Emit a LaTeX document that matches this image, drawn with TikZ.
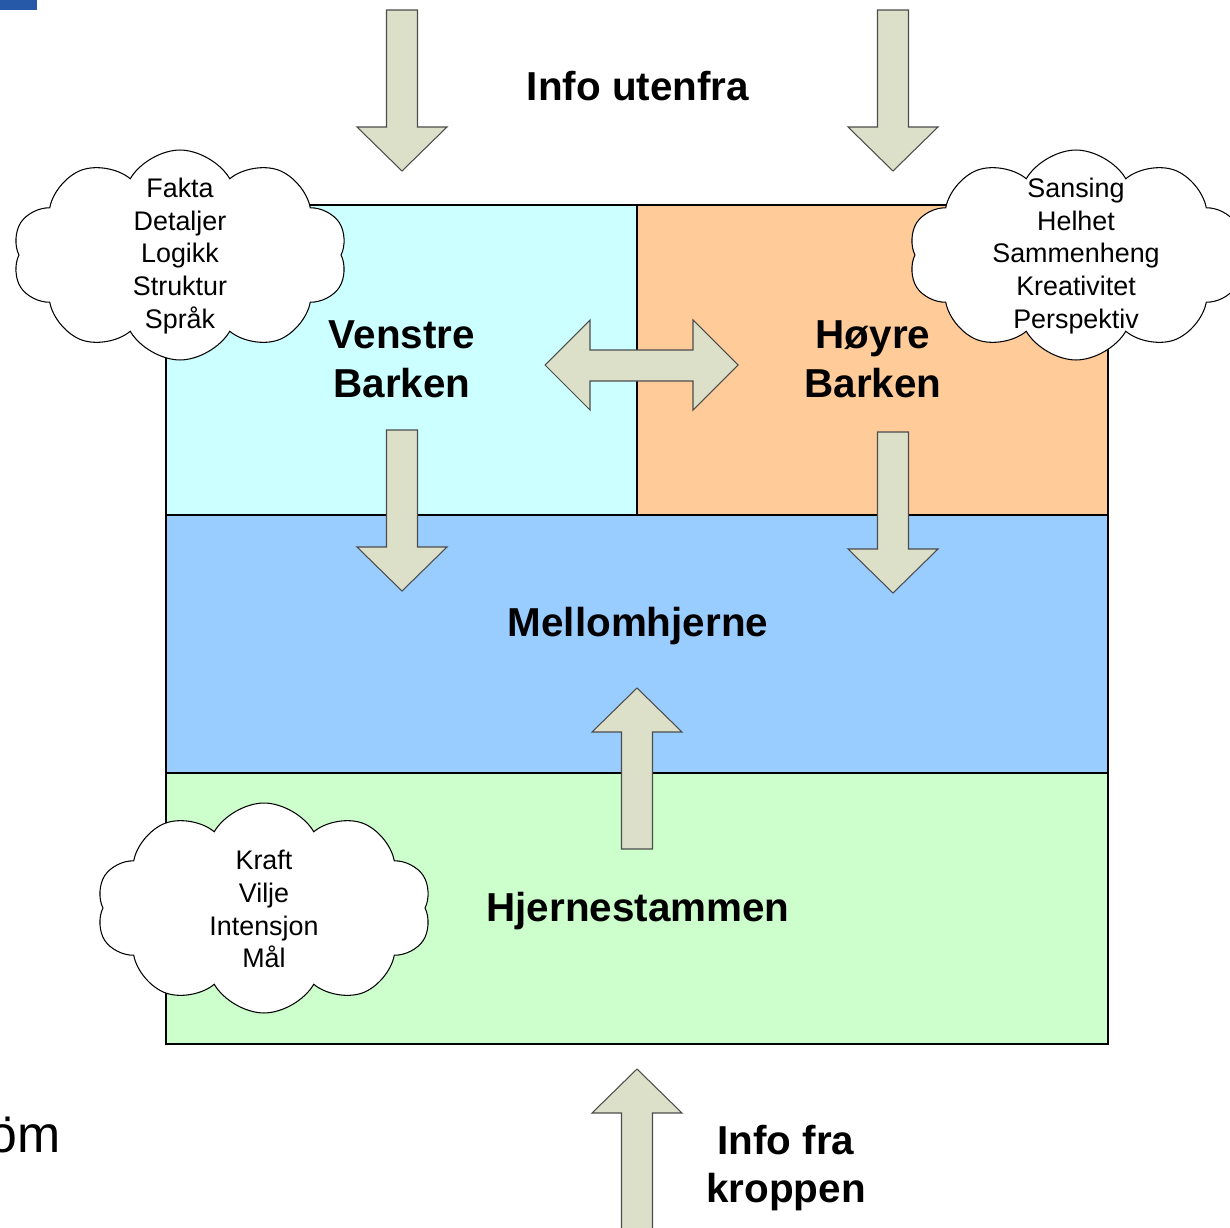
\documentclass[tikz,border=0pt]{standalone}
\usepackage{fontspec}
\setmainfont{Liberation Sans}
\usetikzlibrary{shapes.symbols}
\definecolor{cTL}{RGB}{204,255,255}
\definecolor{cTR}{RGB}{255,204,153}
\definecolor{cMid}{RGB}{153,204,255}
\definecolor{cBot}{RGB}{204,255,204}
\definecolor{cArrow}{RGB}{221,224,200}
\definecolor{cBlue}{RGB}{38,90,168}
\begin{document}
\begin{tikzpicture}[x=0.02cm,y=-0.02cm,
 region/.style={draw=black,line width=0.6pt},
 blockarrow/.style={fill=cArrow,draw=black!70,line width=0.6pt,line join=miter},
 bigtxt/.style={font=\bfseries\fontsize{23}{27.8}\selectfont,align=center,inner sep=0},
 cloudtxt/.style={font=\fontsize{15.3}{18.7}\selectfont,align=center,inner sep=0},
 thought/.style={cloud,cloud puffs=10,cloud puff arc=120,aspect=1.6,draw=black,fill=white,line width=0.6pt,minimum width=6.7cm,minimum height=4.2cm,inner sep=0},
 blockdown/.pic={\path[blockarrow] (-15.5,0) -- (15.5,0) -- (15.5,117) -- (45,117) -- (0,161) -- (-45,117) -- (-15.5,117) -- cycle;}
]
\useasboundingbox (0,0) rectangle (1230,1227);
\clip (0,0) rectangle (1230,1227);
% corner mark
\fill[cBlue] (0,0) rectangle (37,10);
% regions
\draw[region,fill=cTL] (166,205) rectangle (637,515);
\draw[region,fill=cTR] (637,205) rectangle (1108,515);
\draw[region,fill=cMid] (166,515) rectangle (1108,773);
\draw[region,fill=cBot] (166,773) rectangle (1108,1044);
% block arrows
\pic at (402,10) {blockdown};
\pic at (893,10) {blockdown};
\pic at (402,430) {blockdown};
\pic at (893,432) {blockdown};
\pic[rotate=180] at (637,849) {blockdown};
\pic[rotate=180] at (637,1230) {blockdown};
\path[blockarrow] (545,365) -- (590,320) -- (590,350) -- (693,350) -- (693,320) -- (738,365)
  -- (693,410) -- (693,381) -- (590,381) -- (590,410) -- cycle;
% clouds
\node[thought] (cl) at (180,255) {};
\node[thought] (cr) at (1076,255) {};
\node[thought] (cb) at (264,908) {};
\node[cloudtxt] (ltxt) at (180,256) {Fakta\\Detaljer\\Logikk\\Struktur\\Språk};
\node[cloudtxt] (rtxt) at (1076,256) {Sansing\\Helhet\\Sammenheng\\Kreativitet\\Perspektiv};
\node[cloudtxt] (btxt) at (264,909) {Kraft\\Vilje\\Intensjon\\Mål};
% labels
\node[bigtxt] (info) at (638,86) {Info utenfra};
\node[bigtxt] (venstre) at (402,359) {Venstre\\Barken};
\node[bigtxt] (hoyre) at (873,359) {Høyre\\Barken};
\node[bigtxt] (mellom) at (638,626) {Mellomhjerne};
\node[bigtxt] (stamme) at (638,911) {Hjernestammen};
\node[bigtxt] (kropp) at (786,1168) {Info fra\\kroppen};
\node[anchor=base east,inner sep=0,font=\fontsize{29.5}{35}\selectfont] (om) at (61,1152) {öm};
\end{tikzpicture}
\end{document}
